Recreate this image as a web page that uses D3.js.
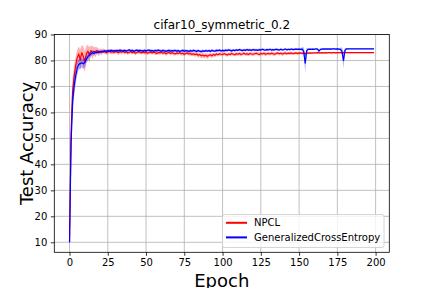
<!DOCTYPE html>
<html>
<head>
<meta charset="utf-8">
<style>
body { margin: 0; background: #fff; }
svg { font-family: "DejaVu Sans", sans-serif; }
.grid line { stroke: #b0b0b0; stroke-width: 0.8; }
.axis text { font-size: 10px; fill: #000; }
.axis path, .axis line { stroke: #000; stroke-width: 0.8; }
</style>
</head>
<body>
<svg width="432" height="288"></svg>
<script src="https://d3js.org/d3.v7.min.js"></script>
<script>

// epochs 0..199
var seriesNames = ["NPCL", "GeneralizedCrossEntropy"];
var seriesColors = ["#ff0000", "#0000ff"];

var npcl = [
  10, 52, 68, 74, 78, 81, 82.5, 80.2, 83, 81.5,
  79.5, 82.6, 83.6, 82.1, 83.8, 83.1, 83.6, 83.2, 83.9, 83.0,
  83.5, 83.2, 83.7, 83.4, 83.0, 83.3, 83.6, 83.2, 83.4, 83.1,
  83.5, 83.3, 83.0, 83.4, 83.2, 83.6, 83.1, 83.3, 82.9, 83.2,
  83.4, 83.0, 83.3, 82.8, 83.1, 83.4, 83.2, 82.9, 83.3, 83.0,
  83.2, 82.8, 83.1, 83.3, 82.9, 83.2, 83.0, 82.7, 83.1, 82.9,
  83.2, 82.8, 83.0, 82.6, 82.9, 83.1, 82.7, 83.0, 82.8, 82.5,
  82.9, 82.7, 83.0, 82.6, 82.8, 82.4, 82.7, 82.9, 82.5, 82.7,
  82.3, 82.6, 82.2, 82.5, 82.0, 82.3, 81.8, 82.1, 81.7, 82.0,
  81.6, 81.9, 82.2, 81.8, 82.3, 82.0, 82.5, 82.2, 82.6, 82.4,
  82.3, 82.6, 82.4, 82.1, 82.5, 82.3, 82.7, 82.4, 82.2, 82.6,
  82.4, 82.7, 82.3, 82.5, 82.8, 82.4, 82.6, 82.3, 82.7, 82.5,
  82.4, 82.6, 82.8, 82.5, 82.3, 82.7, 82.5, 82.8, 82.4, 82.6,
  82.7, 82.5, 82.8, 82.6, 82.4, 82.7, 82.9, 82.6, 82.8, 82.5,
  82.7, 82.9, 82.6, 82.8, 82.7, 82.9, 82.6, 82.8, 82.9, 82.7,
  82.8, 82.9, 82.7, 82.8, 82.6, 82.9, 82.8, 82.9, 82.8, 82.9,
  82.9, 82.9, 83.0, 82.9, 82.9, 83.0, 82.9, 83.0, 82.9, 83.0,
  83.0, 82.9, 83.0, 83.0, 82.9, 83.0, 83.0, 83.0, 82.9, 83.0,
  83.0, 83.0, 83.0, 83.0, 83.0, 83.0, 83.0, 83.0, 83.0, 83.0,
  83.0, 83.0, 83.0, 83.0, 83.0, 83.0, 83.0, 83.0, 83.0, 83.0
];

var npclSpread = [
  0, 8, 5, 4, 3.5, 3, 3, 4, 3, 4,
  4, 3, 2.5, 3, 2, 2.5, 1.5, 2, 1.2, 1.5,
  1, 1.2, 0.9, 1, 0.8, 0.9, 0.7, 0.8, 0.9, 0.7,
  0.8, 0.7, 0.9, 0.6, 0.8, 0.7, 0.9, 0.6, 0.8, 0.7,
  0.6, 0.8, 0.7, 0.9, 0.6, 0.8, 0.7, 0.6, 0.8, 0.7,
  0.9, 0.6, 0.7, 0.8, 0.6, 0.7, 0.9, 0.6, 0.8, 0.7,
  0.7, 0.8, 0.6, 0.9, 0.7, 0.6, 0.8, 0.7, 0.9, 0.6,
  0.8, 0.7, 0.6, 0.8, 0.9, 0.7, 0.6, 0.8, 0.7, 0.9,
  0.7, 0.8, 0.9, 0.7, 1.0, 0.8, 0.9, 1.0, 0.8, 0.9,
  1.0, 0.8, 0.7, 0.9, 0.8, 0.7, 0.8, 0.6, 0.7, 0.8,
  0.7, 0.6, 0.8, 0.7, 0.6, 0.8, 0.7, 0.6, 0.7, 0.8,
  0.6, 0.7, 0.8, 0.6, 0.7, 0.6, 0.8, 0.7, 0.6, 0.7,
  0.8, 0.6, 0.7, 0.6, 0.8, 0.7, 0.6, 0.7, 0.8, 0.6,
  0.7, 0.6, 0.7, 0.8, 0.6, 0.7, 0.6, 0.7, 0.6, 0.8,
  0.6, 0.7, 0.6, 0.5, 0.7, 0.6, 0.5, 0.6, 0.5, 0.6,
  0.5, 0.4, 0.5, 0.4, 0.5, 0.4, 0.4, 0.3, 0.4, 0.3,
  0.3, 0.3, 0.3, 0.3, 0.3, 0.3, 0.3, 0.3, 0.3, 0.3,
  0.3, 0.3, 0.3, 0.3, 0.3, 0.3, 0.3, 0.3, 0.3, 0.3,
  0.2, 0.2, 0.2, 0.2, 0.2, 0.2, 0.2, 0.2, 0.2, 0.2,
  0.2, 0.2, 0.2, 0.2, 0.2, 0.2, 0.2, 0.2, 0.2, 0.2
];

var gce = [
  10, 48, 64, 70, 74, 77, 78.5, 78.8, 79.1, 78.7,
  79.2, 80.4, 81.5, 82.0, 82.6, 83.0, 82.7, 83.2, 83.0, 83.4,
  83.2, 83.5, 83.3, 83.7, 83.5, 83.8, 83.6, 83.9, 83.7, 83.8,
  83.6, 83.9, 83.7, 84.0, 83.8, 83.6, 83.9, 83.7, 83.8, 84.1,
  83.7, 83.9, 83.6, 83.8, 84.0, 83.7, 83.9, 83.8, 83.6, 83.9,
  83.7, 83.9, 84.0, 83.7, 83.8, 83.6, 83.9, 83.7, 84.0, 83.8,
  83.6, 83.9, 83.7, 83.5, 83.8, 83.9, 83.6, 83.8, 83.7, 83.9,
  83.6, 83.8, 83.5, 83.7, 83.9, 83.6, 83.8, 83.7, 83.5, 83.8,
  83.6, 83.9, 83.7, 83.5, 83.8, 83.6, 83.4, 83.7, 83.5, 83.8,
  83.6, 83.8, 83.5, 83.9, 83.7, 83.6, 83.9, 83.8, 84.0, 83.7,
  83.9, 83.7, 84.0, 83.8, 84.1, 83.9, 83.7, 84.0, 83.8, 84.1,
  83.9, 84.2, 84.0, 83.8, 84.1, 83.9, 84.2, 84.0, 84.1, 83.9,
  84.2, 84.0, 84.1, 83.9, 84.2, 84.0, 84.3, 84.1, 84.0, 84.2,
  84.1, 84.3, 84.0, 84.2, 84.1, 84.3, 84.2, 84.0, 84.3, 84.1,
  84.2, 84.4, 84.1, 84.3, 84.2, 84.4, 84.2, 84.3, 84.4, 84.3,
  84.4, 84.3, 84.4, 83.5, 79.0, 83.8, 84.3, 84.4, 84.3, 84.4,
  84.3, 84.5, 84.4, 83.6, 84.3, 84.4, 84.5, 84.4, 84.5, 84.4,
  84.5, 84.4, 84.5, 84.5, 84.4, 84.5, 84.4, 84.3, 83.6, 80.0,
  83.9, 84.5, 84.5, 84.5, 84.5, 84.5, 84.5, 84.5, 84.5, 84.5,
  84.5, 84.5, 84.5, 84.5, 84.5, 84.5, 84.5, 84.5, 84.5, 84.5
];

var gceSpread = [
  0, 7, 5, 4, 3, 2.5, 2, 2, 1.8, 2,
  1.8, 1.5, 1.5, 1.2, 1, 0.9, 0.8, 0.7, 0.6, 0.6,
  0.5, 0.6, 0.4, 0.5, 0.6, 0.4, 0.5, 0.6, 0.4, 0.5,
  0.5, 0.4, 0.6, 0.5, 0.4, 0.5, 0.6, 0.4, 0.5, 0.4,
  0.5, 0.6, 0.4, 0.5, 0.4, 0.6, 0.5, 0.4, 0.5, 0.6,
  0.4, 0.5, 0.4, 0.6, 0.5, 0.4, 0.5, 0.6, 0.4, 0.5,
  0.5, 0.4, 0.6, 0.5, 0.4, 0.5, 0.6, 0.4, 0.5, 0.4,
  0.5, 0.6, 0.4, 0.5, 0.4, 0.6, 0.5, 0.4, 0.5, 0.6,
  0.4, 0.5, 0.4, 0.6, 0.5, 0.4, 0.5, 0.6, 0.4, 0.5,
  0.5, 0.4, 0.6, 0.5, 0.4, 0.5, 0.6, 0.4, 0.5, 0.4,
  0.5, 0.4, 0.5, 0.4, 0.5, 0.4, 0.5, 0.4, 0.5, 0.4,
  0.4, 0.5, 0.4, 0.5, 0.4, 0.5, 0.4, 0.5, 0.4, 0.5,
  0.4, 0.5, 0.4, 0.5, 0.4, 0.5, 0.4, 0.5, 0.4, 0.5,
  0.4, 0.4, 0.5, 0.4, 0.4, 0.5, 0.4, 0.4, 0.5, 0.4,
  0.4, 0.4, 0.4, 0.4, 0.4, 0.4, 0.4, 0.4, 0.4, 0.4,
  0.3, 0.3, 0.8, 1.5, 3.5, 1.2, 0.4, 0.3, 0.3, 0.3,
  0.3, 0.3, 0.3, 0.8, 0.3, 0.3, 0.3, 0.3, 0.3, 0.3,
  0.3, 0.3, 0.3, 0.3, 0.3, 0.3, 0.3, 0.6, 1.5, 3.0,
  1.0, 0.2, 0.2, 0.2, 0.2, 0.2, 0.2, 0.2, 0.2, 0.2,
  0.2, 0.2, 0.2, 0.2, 0.2, 0.2, 0.2, 0.2, 0.2, 0.2
];

var xTicks = [0, 25, 50, 75, 100, 125, 150, 175, 200];
var yTicks = [10, 20, 30, 40, 50, 60, 70, 80, 90];

var svg = d3.select("svg"),
    margin = {top: 34.5, right: 42.7, bottom: 35.7, left: 54.3},
    width = +svg.attr("width") - margin.left - margin.right,
    height = +svg.attr("height") - margin.top - margin.bottom;

var x = d3.scaleLinear().domain([-9.95, 208.95]).range([0, width]),
    y = d3.scaleLinear().domain([6.15, 90]).range([height, 0]);

var g = svg.append("g")
    .attr("transform", "translate(" + margin.left + "," + margin.top + ")");

svg.append("defs").append("clipPath")
    .attr("id", "clip")
  .append("rect")
    .attr("width", width)
    .attr("height", height);

// grid
g.append("g").attr("class", "grid")
  .selectAll("line").data(xTicks).enter().append("line")
    .attr("x1", function(d) { return x(d); })
    .attr("x2", function(d) { return x(d); })
    .attr("y1", 0).attr("y2", height);
g.append("g").attr("class", "grid")
  .selectAll("line").data(yTicks).enter().append("line")
    .attr("y1", function(d) { return y(d); })
    .attr("y2", function(d) { return y(d); })
    .attr("x1", 0).attr("x2", width);

var series = [
  {name: seriesNames[0], color: seriesColors[0], mean: npcl, spread: npclSpread},
  {name: seriesNames[1], color: seriesColors[1], mean: gce, spread: gceSpread}
];

var plot = g.append("g").attr("clip-path", "url(#clip)");

series.forEach(function(s) {
  var band = d3.area()
      .x(function(d, i) { return x(i); })
      .y0(function(d, i) { return y(d - s.spread[i]); })
      .y1(function(d, i) { return y(d + s.spread[i]); });
  var line = d3.line()
      .x(function(d, i) { return x(i); })
      .y(function(d) { return y(d); });

  plot.append("path")
      .datum(s.mean)
      .attr("d", band)
      .attr("fill", s.color)
      .attr("fill-opacity", 0.3)
      .attr("stroke", "none");

  plot.append("path")
      .datum(s.mean)
      .attr("d", line)
      .attr("fill", "none")
      .attr("stroke", s.color)
      .attr("stroke-width", 1.2)
      .attr("stroke-linejoin", "round");
});

// axes
var xAxis = d3.axisBottom(x).tickValues(xTicks).tickSize(3.5).tickPadding(3.5),
    yAxis = d3.axisLeft(y).tickValues(yTicks).tickSize(3.5).tickPadding(3.5);

g.append("g")
    .attr("class", "axis")
    .attr("transform", "translate(0," + height + ")")
    .call(xAxis)
    .call(function(a) { a.select(".domain").remove(); })
    .selectAll("text").attr("font-family", "DejaVu Sans");

g.append("g")
    .attr("class", "axis")
    .call(yAxis)
    .call(function(a) { a.select(".domain").remove(); })
    .selectAll("text").attr("font-family", "DejaVu Sans");

// frame
g.append("rect")
    .attr("width", width)
    .attr("height", height)
    .attr("fill", "none")
    .attr("stroke", "#000")
    .attr("stroke-width", 0.8);

// title and labels
svg.append("text")
    .attr("x", margin.left + width / 2)
    .attr("y", 29)
    .attr("text-anchor", "middle")
    .style("font-size", "12px")
    .text("cifar10_symmetric_0.2");

svg.append("text")
    .attr("x", margin.left + width / 2)
    .attr("y", 287)
    .attr("text-anchor", "middle")
    .style("font-size", "18px")
    .text("Epoch");

svg.append("text")
    .attr("transform", "translate(33," + (margin.top + height / 2) + ") rotate(-90)")
    .attr("text-anchor", "middle")
    .style("font-size", "18px")
    .text("Test Accuracy");

// legend
var legend = svg.append("g").attr("transform", "translate(222.5,214.5)");
legend.append("rect")
    .attr("width", 161.5)
    .attr("height", 33)
    .attr("rx", 2)
    .attr("fill", "#fff")
    .attr("fill-opacity", 0.8)
    .attr("stroke", "#cccccc")
    .attr("stroke-width", 0.8);

series.forEach(function(s, i) {
  var row = legend.append("g").attr("transform", "translate(0," + (8.3 + i * 14.6) + ")");
  row.append("line")
      .attr("x1", 3.5).attr("x2", 24.5)
      .attr("stroke", s.color)
      .attr("stroke-width", 2);
  row.append("text")
      .attr("x", 31.5)
      .attr("y", 3.6)
      .style("font-size", "10px")
      .text(s.name);
});

</script>
</body>
</html>
